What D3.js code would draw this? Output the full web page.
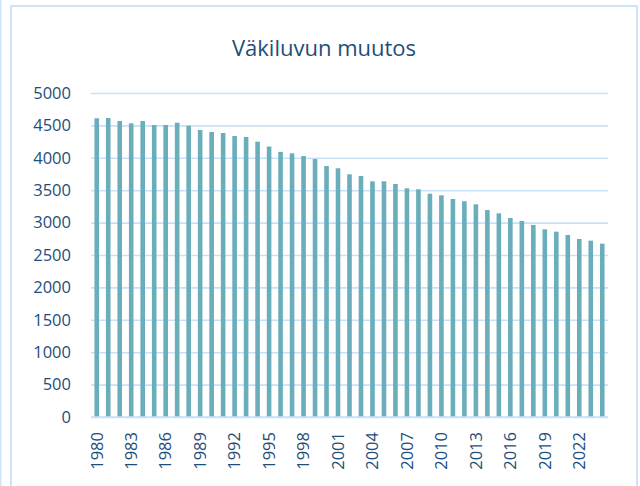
<!DOCTYPE html>
<html>
<head>
<meta charset="utf-8">
<script src="https://cdn.jsdelivr.net/npm/d3@7"></script>
<style>
  body { margin: 0; background: #fff; }
  text { font-family: 'Open Sans', sans-serif; fill: #1f4e79; }
</style>
</head>
<body>
<div id="chart"></div>
<script>
// data
var years = d3.range(1980, 2025)
var population = [
  4610, 4614, 4568, 4532, 4568, 4506, 4506, 4542, 4495, 4429,
  4398, 4383, 4336, 4321, 4249, 4174, 4092, 4069, 4028, 3981,
  3873, 3838, 3745, 3719, 3637, 3637, 3596, 3529, 3514, 3446,
  3421, 3364, 3329, 3282, 3194, 3143, 3071, 3025, 2963, 2897,
  2860, 2809, 2747, 2721, 2675
]
var yTicks = d3.range(0, 5001, 500)
var xTickLabels = years.filter((d, i) => i % 3 === 0)
var chartTitle = 'Väkiluvun muutos'

var svgWidth = 640
var svgHeight = 486

var plot = { left: 91, right: 608, top: 93, bottom: 417 }

var svg = d3.select('#chart')
  .append('svg')
  .attr('width', svgWidth)
  .attr('height', svgHeight)

// frame lines
svg.append('rect')
  .attr('x', 0).attr('y', 0)
  .attr('width', 1.5).attr('height', svgHeight)
  .attr('fill', '#cfe5fb')

svg.append('rect')
  .attr('x', 11).attr('y', 6)
  .attr('width', 626).attr('height', svgHeight + 10)
  .attr('fill', 'none')
  .attr('stroke', '#cde4fa')
  .attr('stroke-width', 2)

// title
svg.append('text')
  .attr('x', 324)
  .attr('y', 56)
  .attr('text-anchor', 'middle')
  .style('font-size', '22px')
  .text(chartTitle)

var xScale = d3.scaleBand()
  .domain(years)
  .range([plot.left, plot.right])
  .paddingInner(0.6)
  .paddingOuter(0.3)

var yScale = d3.scaleLinear()
  .domain([0, 5000])
  .range([plot.bottom, plot.top])

// y axis with gridlines
var yAxis = svg.append('g')
  .attr('transform', `translate(${plot.left}, 0)`)
  .call(d3.axisLeft(yScale)
    .tickValues(yTicks)
    .tickSize(-(plot.right - plot.left))
    .tickPadding(20)
    .tickFormat(d3.format('d')))

yAxis.select('.domain').remove()
yAxis.selectAll('.tick line')
  .attr('stroke', '#c9e1f8')
  .attr('stroke-width', 1.6)
yAxis.selectAll('.tick text')
  .style('font-size', '16.5px')
  .attr('fill', '#1f4e79')

// bars
svg.append('g')
  .selectAll('rect')
  .data(population)
  .enter()
  .append('rect')
  .attr('x', (d, i) => xScale(years[i]))
  .attr('y', d => yScale(d))
  .attr('width', xScale.bandwidth())
  .attr('height', d => yScale(0) - yScale(d))
  .attr('fill', '#6aaebb')

// x axis baseline drawn over bar bottoms
svg.append('line')
  .attr('x1', plot.left).attr('x2', plot.right)
  .attr('y1', plot.bottom).attr('y2', plot.bottom)
  .attr('stroke', '#c9e1f8')
  .attr('stroke-width', 1.6)

var xAxis = svg.append('g')
  .attr('transform', `translate(0, ${plot.bottom})`)
  .call(d3.axisBottom(xScale)
    .tickValues(xTickLabels)
    .tickSize(0)
    .tickPadding(0))

xAxis.select('.domain').remove()
xAxis.selectAll('.tick text')
  .style('font-size', '16.5px')
  .attr('fill', '#1f4e79')
  .attr('text-anchor', 'end')
  .attr('dy', '0.35em')
  .attr('transform', 'translate(0, 15) rotate(-90)')
</script>
</body>
</html>
